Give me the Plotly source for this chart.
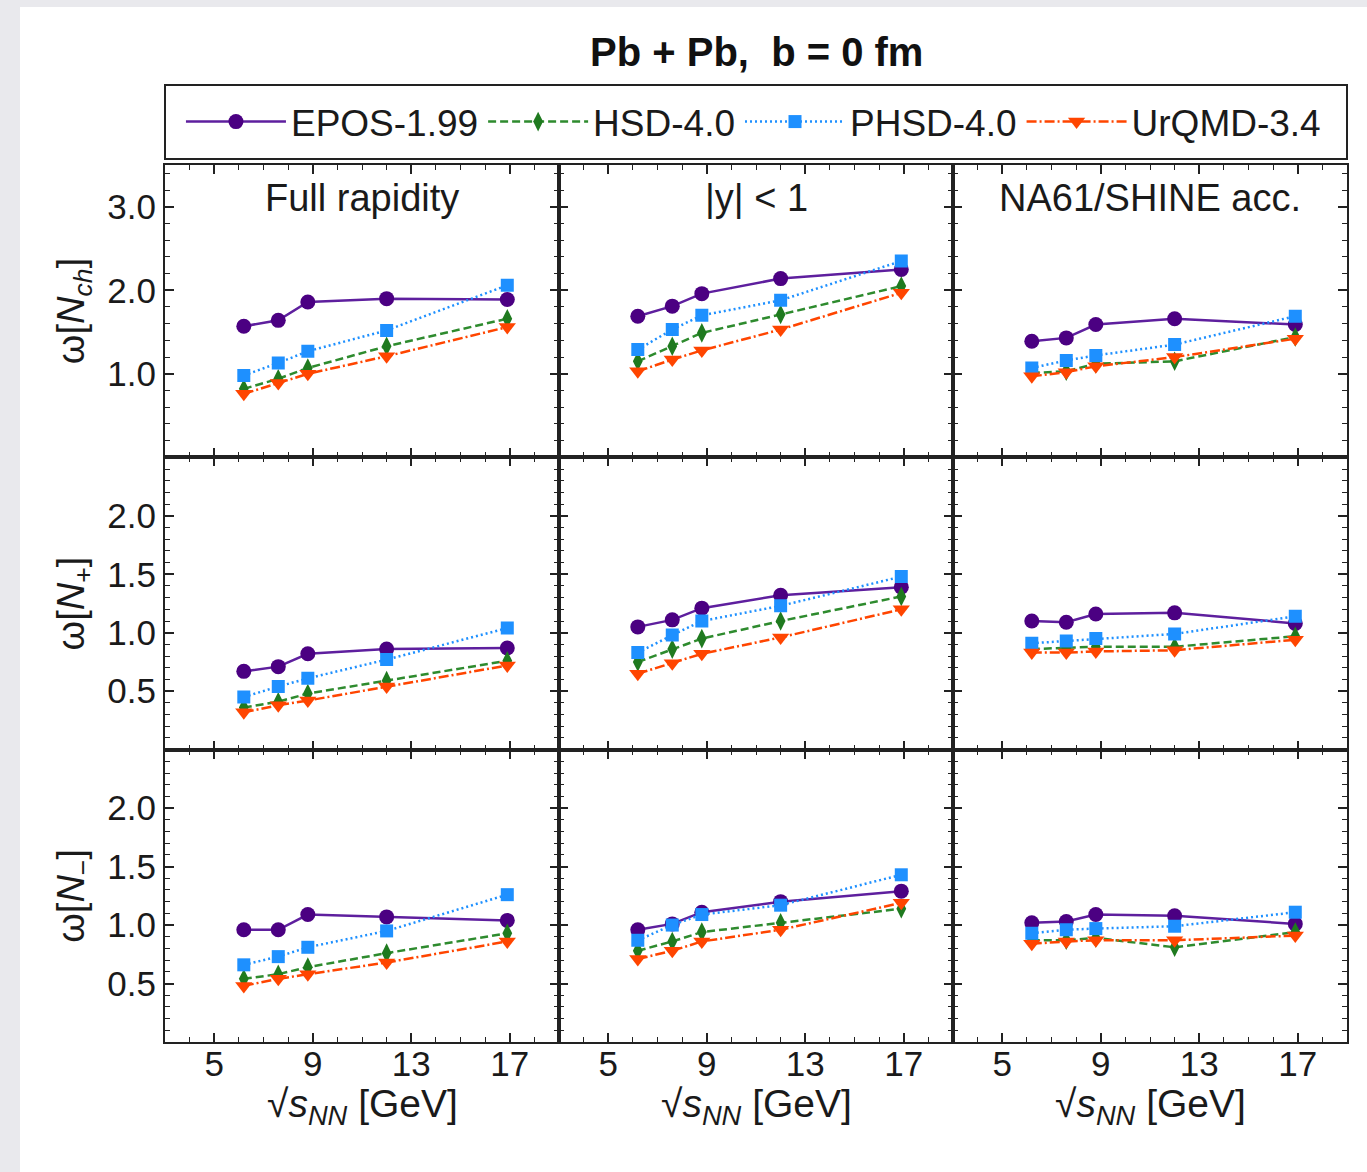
import plotly.graph_objects as go
from plotly.subplots import make_subplots

# Collision energies (GeV) at which the models were run
energy = [6.2, 7.6, 8.8, 12.0, 16.9]

models = ["EPOS-1.99", "HSD-4.0", "PHSD-4.0", "UrQMD-3.4"]
acceptances = ["Full rapidity", "|y| < 1", "NA61/SHINE acc."]

# Scaled variance of charged-particle multiplicity, omega[N_ch]
w_ch_full = {"EPOS-1.99": [1.57, 1.64, 1.86, 1.90, 1.89],
             "HSD-4.0": [0.82, 0.94, 1.07, 1.33, 1.66],
             "PHSD-4.0": [0.98, 1.13, 1.27, 1.52, 2.06],
             "UrQMD-3.4": [0.76, 0.89, 1.00, 1.21, 1.56]}
w_ch_y1 = {"EPOS-1.99": [1.69, 1.81, 1.96, 2.14, 2.25],
           "HSD-4.0": [1.15, 1.33, 1.49, 1.71, 2.05],
           "PHSD-4.0": [1.29, 1.53, 1.70, 1.88, 2.35],
           "UrQMD-3.4": [1.03, 1.17, 1.28, 1.53, 1.97]}
w_ch_na61 = {"EPOS-1.99": [1.39, 1.43, 1.59, 1.66, 1.59],
             "HSD-4.0": [1.01, 1.03, 1.12, 1.15, 1.44],
             "PHSD-4.0": [1.07, 1.16, 1.22, 1.35, 1.69],
             "UrQMD-3.4": [0.97, 1.02, 1.09, 1.20, 1.42]}

# omega[N_+]
w_plus_full = {"EPOS-1.99": [0.67, 0.71, 0.82, 0.86, 0.87],
               "HSD-4.0": [0.36, 0.41, 0.48, 0.59, 0.76],
               "PHSD-4.0": [0.45, 0.54, 0.61, 0.77, 1.04],
               "UrQMD-3.4": [0.32, 0.38, 0.42, 0.54, 0.72]}
w_plus_y1 = {"EPOS-1.99": [1.05, 1.11, 1.21, 1.32, 1.39],
             "HSD-4.0": [0.75, 0.86, 0.95, 1.10, 1.31],
             "PHSD-4.0": [0.83, 0.98, 1.10, 1.23, 1.48],
             "UrQMD-3.4": [0.65, 0.74, 0.82, 0.96, 1.20]}
w_plus_na61 = {"EPOS-1.99": [1.10, 1.09, 1.16, 1.17, 1.08],
               "HSD-4.0": [0.86, 0.87, 0.88, 0.88, 0.97],
               "PHSD-4.0": [0.91, 0.93, 0.95, 0.99, 1.14],
               "UrQMD-3.4": [0.83, 0.83, 0.84, 0.85, 0.94]}

# omega[N_-]
w_minus_full = {"EPOS-1.99": [0.96, 0.96, 1.09, 1.07, 1.04],
                "HSD-4.0": [0.54, 0.58, 0.64, 0.76, 0.93],
                "PHSD-4.0": [0.66, 0.73, 0.81, 0.95, 1.26],
                "UrQMD-3.4": [0.48, 0.54, 0.58, 0.68, 0.86]}
w_minus_y1 = {"EPOS-1.99": [0.96, 1.01, 1.11, 1.20, 1.29],
              "HSD-4.0": [0.78, 0.86, 0.94, 1.02, 1.14],
              "PHSD-4.0": [0.87, 1.00, 1.09, 1.17, 1.43],
              "UrQMD-3.4": [0.71, 0.78, 0.86, 0.96, 1.19]}
w_minus_na61 = {"EPOS-1.99": [1.02, 1.03, 1.09, 1.08, 1.01],
                "HSD-4.0": [0.87, 0.87, 0.89, 0.81, 0.94],
                "PHSD-4.0": [0.93, 0.96, 0.97, 0.99, 1.11],
                "UrQMD-3.4": [0.84, 0.86, 0.87, 0.87, 0.91]}

rows_data = [[w_ch_full, w_ch_y1, w_ch_na61],
             [w_plus_full, w_plus_y1, w_plus_na61],
             [w_minus_full, w_minus_y1, w_minus_na61]]

row_labels = ["ω[<i>N</i><sub><i>ch</i></sub>]",
              "ω[<i>N</i><sub>+</sub>]",
              "ω[<i>N</i><sub>−</sub>]"]

x_ticks = [5, 9, 13, 17]
y_ticks_ch = [1.0, 2.0, 3.0]
y_ticks_pm = [0.5, 1.0, 1.5, 2.0]

styles = {
    "EPOS-1.99": dict(line=dict(color="#5e1f9e", width=2.5, dash="solid"),
                      marker=dict(symbol="circle", color="#4b0082", size=15)),
    "HSD-4.0": dict(line=dict(color="#2e8b2e", width=2.5, dash="8px,4px"),
                    marker=dict(symbol="diamond-tall", color="#1f7a1f", size=14)),
    "PHSD-4.0": dict(line=dict(color="#1e90ff", width=2.5, dash="2px,3px"),
                     marker=dict(symbol="square", color="#1e90ff", size=13)),
    "UrQMD-3.4": dict(line=dict(color="#ff4500", width=2.5, dash="10px,3px,2px,3px"),
                      marker=dict(symbol="triangle-down", color="#ff4500", size=15)),
}

FONT = "Liberation Sans"
TXT = "#1a1a1a"
EDGE = "#e9e9ed"

fig = make_subplots(rows=3, cols=3, shared_xaxes=True, shared_yaxes=True,
                    horizontal_spacing=0, vertical_spacing=0)

# thin grey page edge along the top and left
fig.add_shape(type="rect", xref="paper", yref="paper", x0=-0.2, x1=1.2,
              y0=1.1802, y1=1.25, fillcolor=EDGE, line=dict(width=0), layer="below")
fig.add_shape(type="rect", xref="paper", yref="paper", x0=-0.2, x1=-0.1227,
              y0=-0.2, y1=1.25, fillcolor=EDGE, line=dict(width=0), layer="below")
# frame around the legend row
fig.add_shape(type="rect", xref="paper", yref="paper", x0=0, x1=1,
              y0=1.0068, y1=1.0912, line=dict(color="#222", width=2),
              fillcolor="rgba(0,0,0,0)")

for r in range(3):
    for c in range(3):
        panel = rows_data[r][c]
        fig.add_hline(y=1.0, line=dict(color="black", width=2.5, dash="12px,6px"),
                      row=r + 1, col=c + 1)
        for m in models:
            fig.add_trace(go.Scatter(
                x=energy, y=panel[m], mode="lines+markers", name=m,
                legendgroup=m, showlegend=(r == 0 and c == 0),
                line=styles[m]["line"], marker=styles[m]["marker"]),
                row=r + 1, col=c + 1)

axis_common = dict(showline=True, linecolor="#222", linewidth=2, mirror="ticks",
                   ticks="inside", ticklen=9, tickwidth=1.5, tickcolor="#222",
                   showgrid=False, zeroline=False,
                   tickfont=dict(family=FONT, size=35, color=TXT))

fig.update_xaxes(range=[3, 19], tickmode="array", tickvals=x_ticks,
                 ticktext=[str(v) for v in x_ticks],
                 minor=dict(tickmode="linear", tick0=0, dtick=1, ticks="inside",
                            ticklen=5, tickwidth=1, tickcolor="#222"),
                 **axis_common)
try:
    fig.update_xaxes(ticklabelstandoff=-10)
except ValueError:
    pass
fig.update_yaxes(**axis_common)
fig.update_yaxes(row=1, range=[0, 3.5], tickmode="array", tickvals=y_ticks_ch,
                 ticktext=[f"{v:.1f}" for v in y_ticks_ch],
                 minor=dict(tickmode="linear", tick0=0, dtick=0.2, ticks="inside",
                            ticklen=5, tickwidth=1, tickcolor="#222"))
for r in (2, 3):
    fig.update_yaxes(row=r, range=[0, 2.5], tickmode="array", tickvals=y_ticks_pm,
                     ticktext=[f"{v:.1f}" for v in y_ticks_pm],
                     minor=dict(tickmode="linear", tick0=0, dtick=0.1, ticks="inside",
                                ticklen=5, tickwidth=1, tickcolor="#222"))

annotations = []
# acceptance labels inside the top row
for c, name in enumerate(acceptances):
    ax = "" if c == 0 else str(c + 1)
    annotations.append(dict(text=name, xref=f"x{ax} domain", yref=f"y{ax} domain",
                            x=0.5, y=0.887, showarrow=False, xanchor="center",
                            yanchor="middle",
                            font=dict(family=FONT, size=38, color=TXT)))
# observable labels on the left
for r, lab in enumerate(row_labels):
    ax = "" if r == 0 else str(3 * r + 1)
    annotations.append(dict(text=lab, xref="paper", yref=f"y{ax} domain",
                            x=-0.077, y=0.5, showarrow=False, textangle=-90,
                            xanchor="center", yanchor="middle",
                            font=dict(family=FONT, size=38, color=TXT)))
# energy axis titles
for c in range(3):
    ax = str(7 + c)
    annotations.append(dict(
        text="√<i>s</i><sub><i>NN</i></sub> [GeV]",
        xref=f"x{ax} domain", yref="paper", x=0.5, y=-0.074,
        showarrow=False, xanchor="center", yanchor="middle",
        font=dict(family=FONT, size=39, color=TXT)))
# figure heading
annotations.append(dict(text="<b>Pb\u00a0+\u00a0Pb,\u00a0\u00a0b\u00a0=\u00a00\u00a0fm</b>",
                        xref="paper", yref="paper",
                        x=0.5, y=1.129, showarrow=False, xanchor="center",
                        yanchor="middle", font=dict(family=FONT, size=40, color="#111")))

fig.update_layout(
    width=1367, height=1172,
    margin=dict(l=165, r=20, t=165, b=130),
    paper_bgcolor="white", plot_bgcolor="white",
    showlegend=True,
    legend=dict(orientation="h", x=0.0135, y=1.049, xanchor="left", yanchor="middle",
                itemwidth=100, bgcolor="rgba(0,0,0,0)", borderwidth=0,
                font=dict(family=FONT, size=37, color=TXT), tracegroupgap=0),
    annotations=annotations,
)

# keep the page itself from growing scrollbars around the fixed-size figure
fig.write_html("out.html",
               post_script="document.body.style.margin='0';"
                           "document.body.style.overflow='hidden';")
